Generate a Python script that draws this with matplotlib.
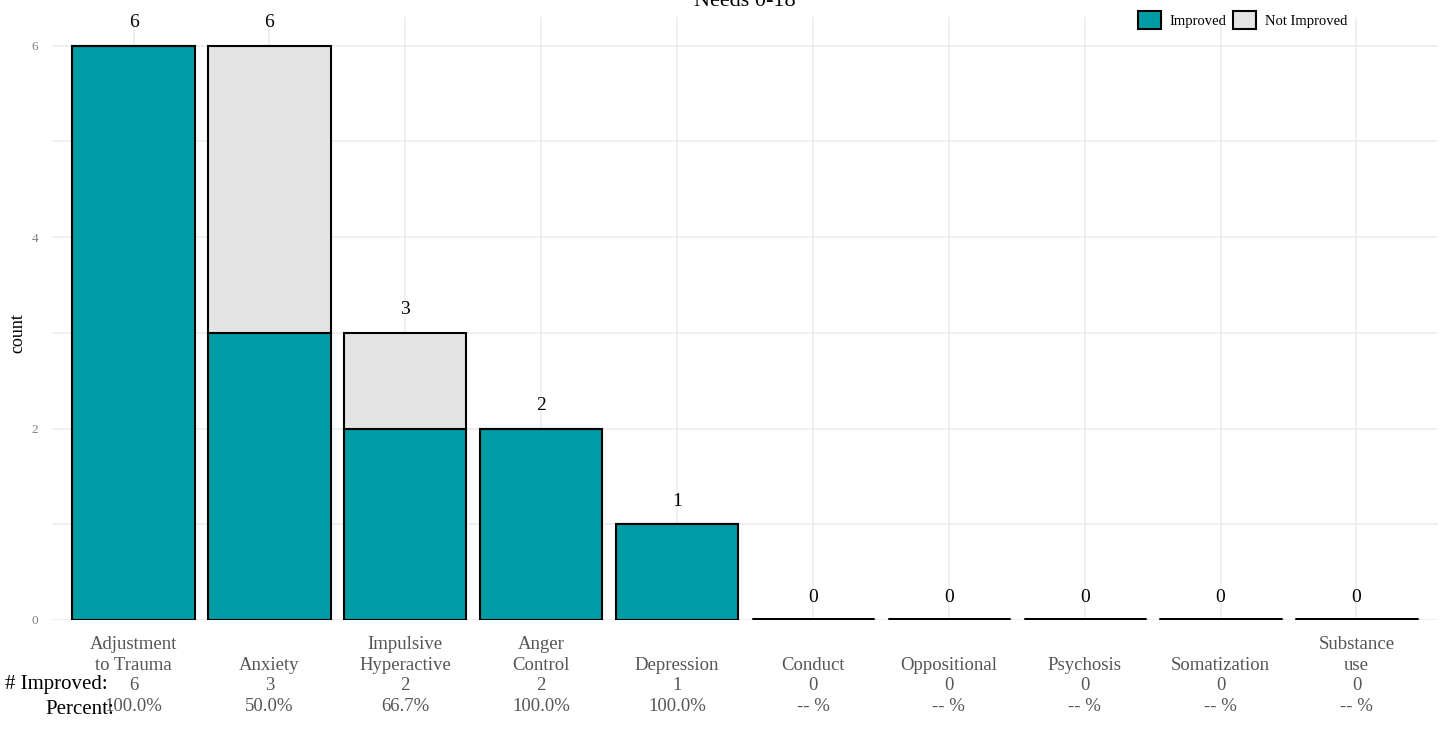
import numpy as np
import matplotlib
matplotlib.use("Agg")
import matplotlib.pyplot as plt
from matplotlib.patches import Patch

plt.rcParams["font.family"] = ["Liberation Serif", "DejaVu Serif"]

# data
needs = ["Adjustment\nto Trauma", "Anxiety", "Impulsive\nHyperactive", "Anger\nControl",
         "Depression", "Conduct", "Oppositional", "Psychosis", "Somatization", "Substance\nuse"]
improved = [6, 3, 2, 2, 1, 0, 0, 0, 0, 0]
not_improved = [0, 3, 1, 0, 0, 0, 0, 0, 0, 0]
percent = ["100.0%", "50.0%", "66.7%", "100.0%", "100.0%", "-- %", "-- %", "-- %", "-- %", "-- %"]

teal = "#009CA6"
grey = "#E3E3E3"
W, H = 1440, 732

fig = plt.figure(figsize=(W / 100, H / 100), dpi=100)
ax = fig.add_axes([52 / W, 1 - 620 / H, (1438 - 52) / W, (620 - 17) / H])

x = np.arange(1, len(needs) + 1)
total = np.array(improved) + np.array(not_improved)
# empty bars show up as a thick flat line in the original
lw = [3.5 if t == 0 else 1.5 for t in total]

ax.bar(x, improved, width=0.9, color=teal, edgecolor="black", linewidth=lw, zorder=3)
ax.bar(x, not_improved, bottom=improved, width=0.9, color=grey, edgecolor="black",
       linewidth=lw, zorder=3)

for xi, t in zip(x, total):
    ax.text(xi, t + 0.24, str(t), ha="center", va="center", fontsize=14, color="black")

ax.set_xlim(0.4, len(needs) + 0.6)
ax.set_ylim(0, 6.3)
ax.set_yticks([0, 2, 4, 6])
ax.set_yticks([1, 3, 5], minor=True)
ax.set_xticks(x)
ax.set_xticklabels([])
ax.tick_params(axis="both", which="both", length=0)
ax.tick_params(axis="y", labelsize=9.5, labelcolor="#7F7F7F", pad=10)
ax.grid(True, which="both", color="#EBEBEB", linewidth=1.1, zorder=0)
for s in ax.spines.values():
    s.set_visible(False)
fig.text(18 / W, 1 - 333 / H, "count", fontsize=13, rotation=90, ha="center", va="center")

# multi line labels below the bars, bottom aligned
trans = ax.get_xaxis_transform()
for xi, name, imp, pc in zip(x, needs, improved, percent):
    label = f"{name}\n{imp}\n{pc}"
    ax.text(xi, -(715 - 620) / (620 - 17), label, transform=trans, ha="center", va="bottom",
            fontsize=13.5, color="#555555", linespacing=1.28, multialignment="center")

fig.text(5 / W, 1 - 685 / H, "# Improved:", fontsize=15, va="center", ha="left")
fig.text(45 / W, 1 - 709 / H, "Percent:", fontsize=15, va="center", ha="left")

fig.text(745 / W, 1 - 1 / H, "Needs 0-18", fontsize=16, ha="center", va="center")

handles = [Patch(facecolor=teal, edgecolor="black", linewidth=1.5, label="Improved"),
           Patch(facecolor=grey, edgecolor="black", linewidth=1.5, label="Not Improved")]
fig.legend(handles=handles, loc="center right", bbox_to_anchor=(1347 / W, 1 - 20 / H),
           ncol=2, frameon=False, fontsize=10.5, handlelength=1.6, handleheight=1.6,
           columnspacing=0.4, handletextpad=0.6, borderaxespad=0, borderpad=0)

fig.savefig("out.png", dpi=100)
